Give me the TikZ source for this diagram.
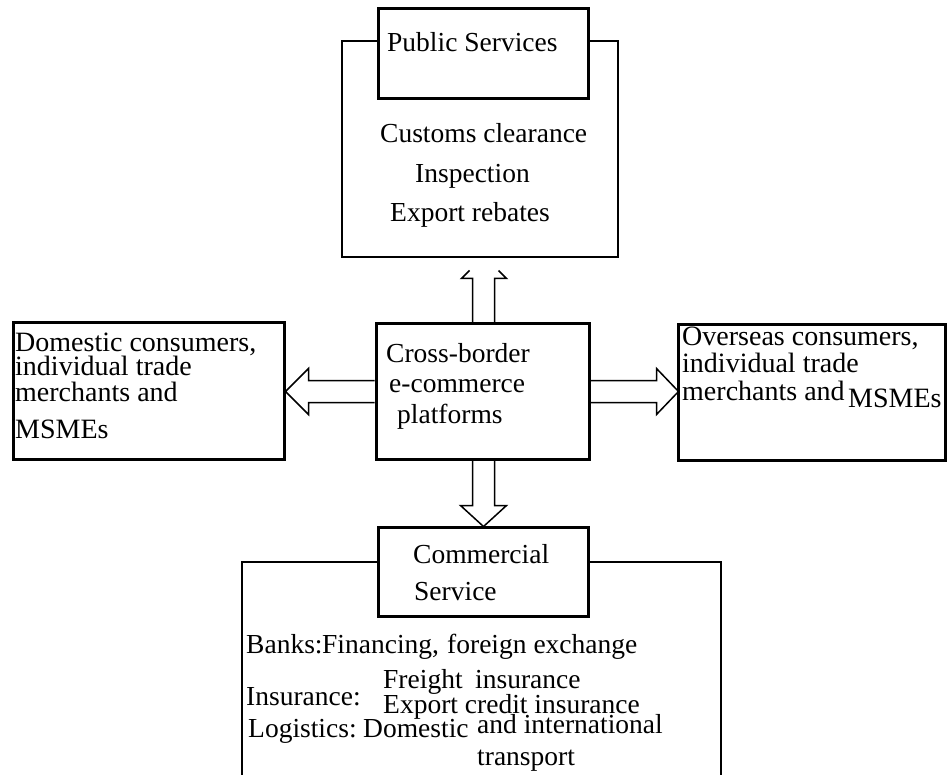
\documentclass[tikz,border=0pt]{standalone}
\usepackage{fontspec}
\setmainfont{Liberation Serif}
\usetikzlibrary{calc}
\newcommand{\fsa}{\fontsize{27.5}{30}\selectfont}
\newcommand{\fsb}{\fontsize{28}{30}\selectfont}
\begin{document}
\begin{tikzpicture}[x=1pt,y=-1pt,
  thickbox/.style={draw,line width=3pt,fill=white,rectangle,inner sep=0pt},
  thinbox/.style={draw,line width=1.5pt,rectangle,inner sep=0pt},
  arr/.style={draw,line width=1.5pt,line join=miter},
  txt/.style={anchor=base west,inner sep=0pt,font=\fsa},
  stxt/.style={anchor=base west,inner sep=0pt,font=\fsb}]
\useasboundingbox (0,0) rectangle (947,775);
% public services
\node[thinbox,minimum width=276pt,minimum height=216pt] (pubout) at (480,149) {};
\node[thickbox,minimum width=210pt,minimum height=90pt] (pub) at (483,54) {};
\node[txt] (t1) at (387,52) {Public Services};
\node[txt] (t2) at (380,143) {Customs clearance};
\node[txt] (t3) at (415,183) {Inspection};
\node[txt] (t4) at (390,222) {Export rebates};
% central
\node[thickbox,minimum width=213pt,minimum height=135pt] (cb) at (482.5,391.5) {};
\node[txt] (c1) at (386,362) {Cross-border};
\node[txt] (c2) at (389,392) {e-commerce};
\node[txt] (c3) at (397,423) {platforms};
% domestic
\node[thickbox,minimum width=271pt,minimum height=136pt] (dom) at (148.5,391) {};
\node[stxt] (d1) at (15,352) {Domestic consumers,};
\node[stxt] (d2) at (15,375) {individual trade};
\node[stxt] (d3) at (15,401) {merchants and};
\node[stxt] (d4) at (15,438) {MSMEs};
% overseas
\node[thickbox,minimum width=267pt,minimum height=135pt] (ovs) at (811.5,392.5) {};
\node[stxt] (o1) at (682,345) {Overseas consumers,};
\node[stxt] (o2) at (682,372) {individual trade};
\node[stxt] (o3) at (682,400) {merchants and};
\node[stxt] (o4) at (848,407) {MSMEs};
% commercial
\coordinate (cl) at (242,775);
\coordinate (cr) at (721,775);
\draw[line width=1.5pt] (cl) -- (cl |- 0,562) -- (cr |- 0,562) -- (cr);
\node[thickbox,minimum width=210pt,minimum height=89pt] (com) at (483,571.5) {};
\node[txt] (m1) at (413,563) {Commercial};
\node[txt] (m2) at (414,600) {Service};
\node[txt] (b1) at (246,653) {Banks:};
\node[txt] (b2) at (322,653) {Financing,};
\node[txt] (b3) at (447,653) {foreign exchange};
\node[txt] (i1) at (383,688) {Freight};
\node[txt] (i2) at (475,688) {insurance};
\node[txt] (i3) at (246,705) {Insurance:};
\node[txt] (i4) at (383,713) {Export credit insurance};
\node[txt] (l1) at (248,737) {Logistics:};
\node[txt] (l2) at (363,737) {Domestic};
\node[txt] (l3) at (477,733) {and international};
\node[txt] (l4) at (477,765) {transport};
% arrows
\draw[arr] ($(cb.west)+(0,-11)$) -- ++(-66,0) -- ++(0,-12) -- ++(-23,23) -- ++(23,23) -- ++(0,-12) -- ($(cb.west)+(0,11)$);
\draw[arr] ($(cb.east)+(0,-11)$) -- ++(66,0) -- ++(0,-12) -- ++(22,23) -- ++(-22,23) -- ++(0,-12) -- ($(cb.east)+(0,11)$);
\draw[arr] ($(cb.south)+(-10,0)$) -- ++(0,45) -- ++(-12,0) -- ++(23,21) -- ++(23,-21) -- ++(-12,0) -- ($(cb.south)+(12,0)$);
\draw[arr] ($(cb.north)+(-10,0)$) -- ++(0,-44) -- ++(-11,0) -- ++(8,-8);
\draw[arr] ($(cb.north)+(12,0)$) -- ++(0,-44) -- ++(12,0) -- ++(-8,-8);
\end{tikzpicture}
\end{document}
